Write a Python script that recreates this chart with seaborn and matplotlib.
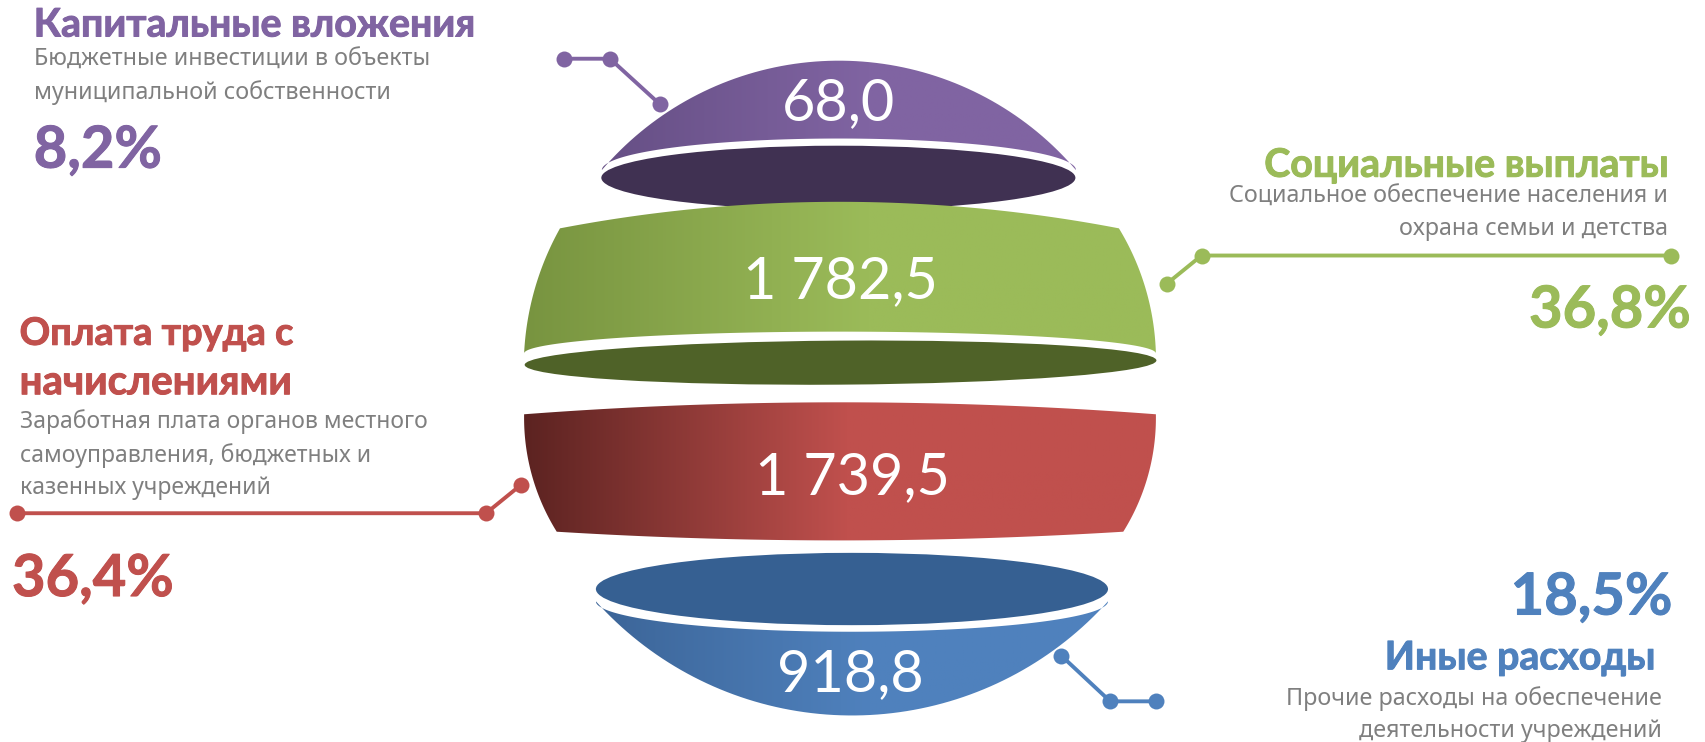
# plot.py
# Инфографика расходов бюджета: шар из четырех сегментов с подписями.

import numpy as np
import matplotlib.pyplot as plt
import matplotlib.patheffects as pe
import seaborn as sns
from matplotlib.patches import Ellipse, PathPatch
from matplotlib.path import Path

# --- Данные --- #
categorias = ["Капитальные вложения", "Социальные выплаты", "Оплата труда с\nначислениями", "Иные расходы"]
valores = [68.0, 1782.5, 1739.5, 918.8]
percentuais = [8.2, 36.8, 36.4, 18.5]
descricoes = [
    "Бюджетные инвестиции в объекты\nмуниципальной собственности",
    "Социальное обеспечение населения и\nохрана семьи и детства",
    "Заработная плата органов местного\nсамоуправления, бюджетных и\nказенных учреждений",
    "Прочие расходы на обеспечение\nдеятельности учреждений",
]

# --- Стиль --- #
CORES = ["#8064a2", "#9bbb59", "#c0504d", "#4f81bd"]
CORES_ESCURAS = ["#664f85", "#789440", "#5c2321", "#3c6598"]
CORES_ELIPSE = ["#403152", "#4f6228", None, "#366092"]
CINZA = "#7f7f7f"
FONTE = ["Lato", "Open Sans", "DejaVu Sans"]
FONTE_DESC = ["Noto Sans", "DejaVu Sans"]


def arco(p0, meio, p1, n=80):
    """Дуга окружности через три точки."""
    (ax_, ay), (bx, by), (cx, cy) = p0, meio, p1
    d = 2 * (ax_ * (by - cy) + bx * (cy - ay) + cx * (ay - by))
    ux = ((ax_**2 + ay**2) * (by - cy) + (bx**2 + by**2) * (cy - ay) + (cx**2 + cy**2) * (ay - by)) / d
    uy = ((ax_**2 + ay**2) * (cx - bx) + (bx**2 + by**2) * (ax_ - cx) + (cx**2 + cy**2) * (bx - ax_)) / d
    a0 = np.arctan2(ay - uy, ax_ - ux)
    am = np.arctan2(by - uy, bx - ux)
    a1 = np.arctan2(cy - uy, cx - ux)
    # идем через среднюю точку
    if not (min(a0, a1) <= am <= max(a0, a1)):
        if a1 > a0:
            a0 += 2 * np.pi
        else:
            a1 += 2 * np.pi
    t = np.linspace(a0, a1, n)
    r = np.hypot(ax_ - ux, ay - uy)
    return np.column_stack([ux + r * np.cos(t), uy + r * np.sin(t)])


def meia_elipse(cx, cy, a, b, n=120):
    """Половина эллипса: b < 0 - верхняя дуга справа налево, b > 0 - нижняя слева направо."""
    t = np.linspace(0, np.pi, n) if b < 0 else np.linspace(np.pi, 0, n)
    return np.column_stack([cx + a * np.cos(t), cy + abs(b) * np.sin(t) * np.sign(b)])


def segmento(ax, trechos, escura, cor, x0, x1, y0, y1, xfim):
    """Сегмент шара с горизонтальным градиентом."""
    pts = np.vstack(trechos)
    patch = PathPatch(Path(np.vstack([pts, pts[0]]), closed=True), fc="none", ec="none")
    ax.add_patch(patch)
    cmap = sns.blend_palette([escura, cor], as_cmap=True)
    grad = np.clip((np.linspace(x0, x1, 400) - x0) / (xfim - x0), 0, 1).reshape(1, -1)
    im = ax.imshow(grad, extent=(x0, x1, y1, y0), cmap=cmap, vmin=0, vmax=1, aspect="auto", zorder=patch.get_zorder())
    im.set_clip_path(patch)


def ligacao(ax, xs, ys, cor):
    sns.lineplot(x=xs, y=ys, sort=False, estimator=None, color=cor, lw=2.8, marker="o", markersize=11.5,
                 markeredgewidth=0, ax=ax, legend=False)


def rotulo_valor(v):
    return f"{v:,.1f}".replace(",", " ").replace(".", ",")


def rotulo_pct(p):
    return f"{p}%".replace(".", ",")


def negrito(txt, cor):
    # Lato Bold тоньше оригинала, немного утолщаем
    txt.set_path_effects([pe.withStroke(linewidth=0.7, foreground=cor)])


def main():
    sns.set_theme(style="white")
    plt.rcParams["font.family"] = FONTE

    fig = plt.figure(figsize=(17.05, 7.42), dpi=100)
    ax = fig.add_axes([0, 0, 1, 1])

    # Сегменты сверху вниз
    segmento(ax, [arco((553.5, 156.4), (771.5, 55.8), (989.5, 156.4)), meia_elipse(771.5, 156.4, 218, -29)],
             CORES_ESCURAS[0], CORES[0], 553, 990, 50, 160, 800)
    ax.add_patch(Ellipse((771, 163.5), 436, 59, fc=CORES_ELIPSE[0], ec="none"))

    segmento(ax, [arco((515, 210), (772, 185.6), (1029, 210)), arco((1029, 210), (1054, 267), (1063, 325)),
                  meia_elipse(772.5, 325, 290.5, -20), arco((482, 325), (492, 265), (515, 210))],
             CORES_ESCURAS[1], CORES[1], 482, 1063, 180, 330, 800)
    ax.add_patch(Ellipse((773, 333.5), 581, 40.5, angle=-0.4, fc=CORES_ELIPSE[1], ec="none"))

    segmento(ax, [arco((482, 381), (772, 370), (1063, 381)), arco((1063, 381), (1055, 440), (1033, 489)),
                  arco((1033, 489), (772, 497), (512, 489)), arco((512, 489), (490, 440), (482, 381))],
             CORES_ESCURAS[2], CORES[2], 482, 1063, 368, 500, 780)

    ax.add_patch(Ellipse((783.5, 541.7), 471, 66.5, fc=CORES_ELIPSE[3], ec="none"))
    segmento(ax, [meia_elipse(783.5, 553, 235.5, 28), arco((1019, 553), (783.5, 658), (548, 553))],
             CORES_ESCURAS[3], CORES[3], 548, 1019, 550, 660, 800)

    # Значения внутри сегментов
    centros = [(771, 95), (773, 259), (784, 439), (782, 620)]
    for (x, y), v in zip(centros, valores):
        ax.text(x, y, rotulo_valor(v), color="white", fontsize=41.5, ha="center", va="center")

    # Линии-выноски
    ligacao(ax, [519, 561, 607], [54, 54, 96], CORES[0])
    ligacao(ax, [1537, 1105, 1073], [235, 235, 261], CORES[1])
    ligacao(ax, [16, 447, 479], [472, 472, 446], CORES[2])
    ligacao(ax, [976, 1021, 1063], [603, 645, 645], CORES[3])

    # Заголовки
    kw = dict(fontweight="bold", va="center")
    titulos = [
        ax.text(31, 23, categorias[0], color=CORES[0], fontsize=28.3, **kw),
        ax.text(1534, 152, categorias[1], color=CORES[1], ha="right", fontsize=28.3, **kw),
        ax.text(18, 307, categorias[2].split("\n")[0], color=CORES[2], fontsize=27.3, **kw),
        ax.text(18, 352, categorias[2].split("\n")[1], color=CORES[2], fontsize=29, **kw),
        ax.text(1522, 605, categorias[3], color=CORES[3], ha="right", fontsize=28.3, **kw),
    ]

    # Описания
    kd = dict(color=CINZA, family=FONTE_DESC, va="center", linespacing=1.45)
    ax.text(31, 70, descricoes[0], fontsize=16.8, **kd)
    ax.text(1534, 196, descricoes[1], ha="right", fontsize=16.8, **kd)
    ax.text(18, 418, descricoes[2], fontsize=16.5, **kd)
    ax.text(1528, 657, descricoes[3], ha="right", fontsize=16.8, **kd)

    # Проценты
    kp = dict(fontweight="bold", fontsize=41.7, va="center")
    titulos += [
        ax.text(31, 139, rotulo_pct(percentuais[0]), color=CORES[0], **kp),
        ax.text(1555, 286, rotulo_pct(percentuais[1]), color=CORES[1], ha="right", **kp),
        ax.text(11, 533, rotulo_pct(percentuais[2]), color=CORES[2], **kp),
        ax.text(1538, 550, rotulo_pct(percentuais[3]), color=CORES[3], ha="right", **kp),
    ]
    for t in titulos:
        negrito(t, t.get_color())

    # Оси в координатах макета
    ax.set_xlim(0, 1568)
    ax.set_ylim(682.4, 0)
    ax.axis("off")
    fig.savefig("out.png", dpi=100)
    plt.close(fig)


if __name__ == "__main__":
    main()
